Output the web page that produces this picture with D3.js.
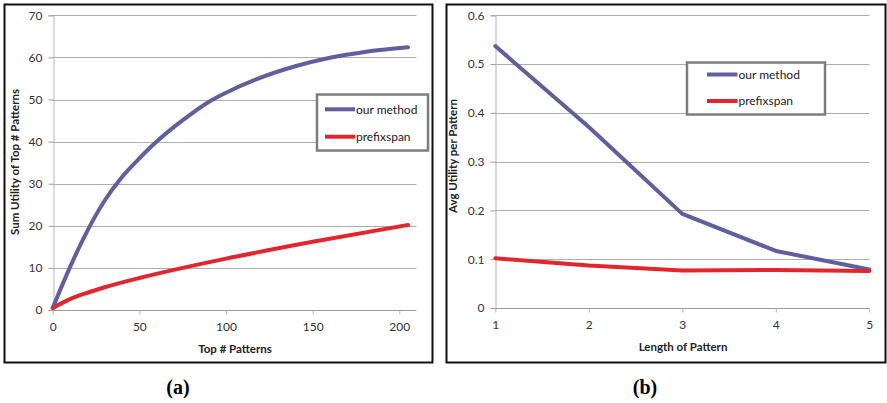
<!DOCTYPE html>
<html>
<head>
<meta charset="utf-8">
<script src="https://cdn.jsdelivr.net/npm/d3@7/dist/d3.min.js"></script>
<style>
  html, body { margin: 0; padding: 0; background: #fff; }
  svg { display: block; }
</style>
</head>
<body>
<svg id="chart" width="887" height="403"></svg>
<script>
// (a) cumulative utility of the top-k patterns
const topK        = [0, 10, 20, 30, 40, 50, 60, 70, 80, 90, 100, 120, 140, 160, 180, 205];
const ourSumUtil  = [0.5, 10.2, 18.8, 26, 31.6, 36, 40, 43.5, 46.6, 49.4, 51.6, 55.2, 57.9, 59.9, 61.3, 62.4];
const prefTopK    = [0, 10, 20, 30, 50, 75, 100, 150, 205];
const prefSumUtil = [0.5, 2.6, 4.1, 5.4, 7.6, 10.0, 12.2, 16.2, 20.2];
const aXTicks = [0, 50, 100, 150, 200];
const aYTicks = [0, 10, 20, 30, 40, 50, 60, 70];

// (b) average utility per pattern by pattern length
const patternLength = [1, 2, 3, 4, 5];
const ourAvgUtil    = [0.537, 0.371, 0.193, 0.117, 0.079];
const prefAvgUtil   = [0.102, 0.087, 0.077, 0.078, 0.076];
const bXTicks = [1, 2, 3, 4, 5];
const bYTicks = [0, 0.1, 0.2, 0.3, 0.4, 0.5, 0.6];

const seriesNames = ["our method", "prefixspan"];
const BLUE = "#5f5f9e", RED = "#e2262e";
const SANS = "Lato, 'Open Sans', sans-serif";
const SERIF = "'Liberation Serif', 'Times New Roman', serif";

const svg = d3.select("#chart");

function panel(cfg) {
  const g = svg.append("g").style("font-family", SANS);
  // outer frame
  g.append("rect")
    .attr("x", cfg.frame[0]).attr("y", cfg.frame[1])
    .attr("width", cfg.frame[2]).attr("height", cfg.frame[3])
    .attr("fill", "#fff").attr("stroke", "#111").attr("stroke-width", 2);

  const x = d3.scaleLinear().domain(cfg.xDomain).range(cfg.xRange);
  const y = d3.scaleLinear().domain(cfg.yDomain).range(cfg.yRange);

  // horizontal gridlines
  g.append("g").selectAll("line").data(cfg.yTicks.filter(d => d !== 0)).join("line")
    .attr("x1", cfg.xRange[0]).attr("x2", cfg.gridRight)
    .attr("y1", d => Math.round(y(d)) + 0.5).attr("y2", d => Math.round(y(d)) + 0.5)
    .attr("stroke", "#adadad").attr("stroke-width", 1);

  // y axis
  const yAxis = g.append("g")
    .attr("transform", `translate(${Math.round(cfg.xRange[0]) + 0.5},0)`)
    .call(d3.axisLeft(y).tickValues(cfg.yTicks).tickFormat(cfg.yFormat).tickSize(5).tickPadding(6));
  yAxis.select(".domain").attr("stroke", "#b5b5b5");
  yAxis.selectAll(".tick line").attr("stroke", "#9a9a9a");
  yAxis.selectAll(".tick text").attr("font-size", 12).attr("fill", "#333")
    .style("font-family", SANS);

  // x axis
  const xAxis = g.append("g")
    .attr("transform", `translate(0,${Math.round(cfg.yRange[0]) + 0.5})`)
    .call(d3.axisBottom(x).tickValues(cfg.xTicks).tickFormat(d3.format("d")).tickSize(4).tickPadding(8));
  xAxis.select(".domain").attr("stroke", "#9a9a9a")
    .attr("d", `M${cfg.xRange[0]},0H${cfg.gridRight}`);
  xAxis.selectAll(".tick line").attr("stroke", "#b5b5b5");
  xAxis.selectAll(".tick text").attr("font-size", 12).attr("fill", "#333")
    .style("font-family", SANS);

  // series
  const line = (xs, ys) => d3.line().curve(cfg.curve)
    .x((d, i) => x(xs[i])).y(d => y(d))(ys);
  cfg.series.forEach(s => {
    g.append("path").attr("d", line(s.xs, s.ys))
      .attr("fill", "none").attr("stroke", s.color)
      .attr("stroke-width", 4).attr("stroke-linejoin", "round").attr("stroke-linecap", "round");
  });

  // axis titles
  g.append("text")
    .attr("x", cfg.xTitlePos[0]).attr("y", cfg.xTitlePos[1])
    .attr("text-anchor", "middle").attr("font-size", 11.5).attr("font-weight", "bold")
    .attr("fill", "#222").text(cfg.xTitle);
  g.append("text")
    .attr("transform", `translate(${cfg.yTitlePos[0]},${cfg.yTitlePos[1]}) rotate(-90)`)
    .attr("text-anchor", "middle").attr("font-size", 11.5).attr("font-weight", "bold")
    .attr("fill", "#222").text(cfg.yTitle);

  // legend
  const [lx, ly, lw, lh] = cfg.legend;
  const lg = g.append("g");
  lg.append("rect").attr("x", lx).attr("y", ly).attr("width", lw).attr("height", lh)
    .attr("fill", "#fff").attr("stroke", "#7d7d7d").attr("stroke-width", 2.5);
  cfg.series.forEach((s, i) => {
    const yy = ly + cfg.legendRows[i];
    lg.append("line").attr("x1", lx + cfg.legendLine[0]).attr("x2", lx + cfg.legendLine[1])
      .attr("y1", yy).attr("y2", yy).attr("stroke", s.color).attr("stroke-width", 4);
    lg.append("text").attr("x", lx + cfg.legendLine[1] + 1).attr("y", yy)
      .attr("dy", "0.35em").attr("font-size", 12).attr("fill", "#222").text(s.name);
  });

  // caption
  g.append("text").attr("x", cfg.caption[0]).attr("y", cfg.caption[1])
    .attr("text-anchor", "middle").style("font-family", SERIF)
    .attr("font-weight", "bold").attr("font-size", 20).attr("fill", "#000").text(cfg.captionText);
}

panel({
  frame: [4.5, 4.5, 428, 358],
  xDomain: [0, 200], xRange: [52.7, 399.3],
  yDomain: [0, 70], yRange: [310, 15.3],
  gridRight: 416.5,
  xTicks: aXTicks, yTicks: aYTicks,
  yFormat: d3.format("d"),
  curve: d3.curveMonotoneX,
  series: [
    { name: seriesNames[0], xs: topK, ys: ourSumUtil, color: BLUE },
    { name: seriesNames[1], xs: prefTopK, ys: prefSumUtil, color: RED }
  ],
  xTitle: "Top # Patterns", xTitlePos: [235, 353],
  yTitle: "Sum Utility of Top # Patterns", yTitlePos: [19, 162],
  legend: [317, 94.5, 111, 56], legendRows: [14.8, 42.2], legendLine: [8, 38],
  caption: [178, 394], captionText: "(a)"
});

panel({
  frame: [446.5, 4.5, 439, 358],
  xDomain: [1, 5], xRange: [495.3, 869.3],
  yDomain: [0, 0.6], yRange: [308, 15.3],
  gridRight: 869.3,
  xTicks: bXTicks, yTicks: bYTicks,
  yFormat: d => d === 0 ? "0" : d3.format(".1f")(d),
  curve: d3.curveLinear,
  series: [
    { name: seriesNames[0], xs: patternLength, ys: ourAvgUtil, color: BLUE },
    { name: seriesNames[1], xs: patternLength, ys: prefAvgUtil, color: RED }
  ],
  xTitle: "Length of Pattern", xTitlePos: [683, 351],
  yTitle: "Avg Utility per Pattern", yTitlePos: [457, 156],
  legend: [687, 62.5, 138, 52], legendRows: [12, 38.5], legendLine: [20, 50.5],
  caption: [645, 394], captionText: "(b)"
});
</script>
</body>
</html>
